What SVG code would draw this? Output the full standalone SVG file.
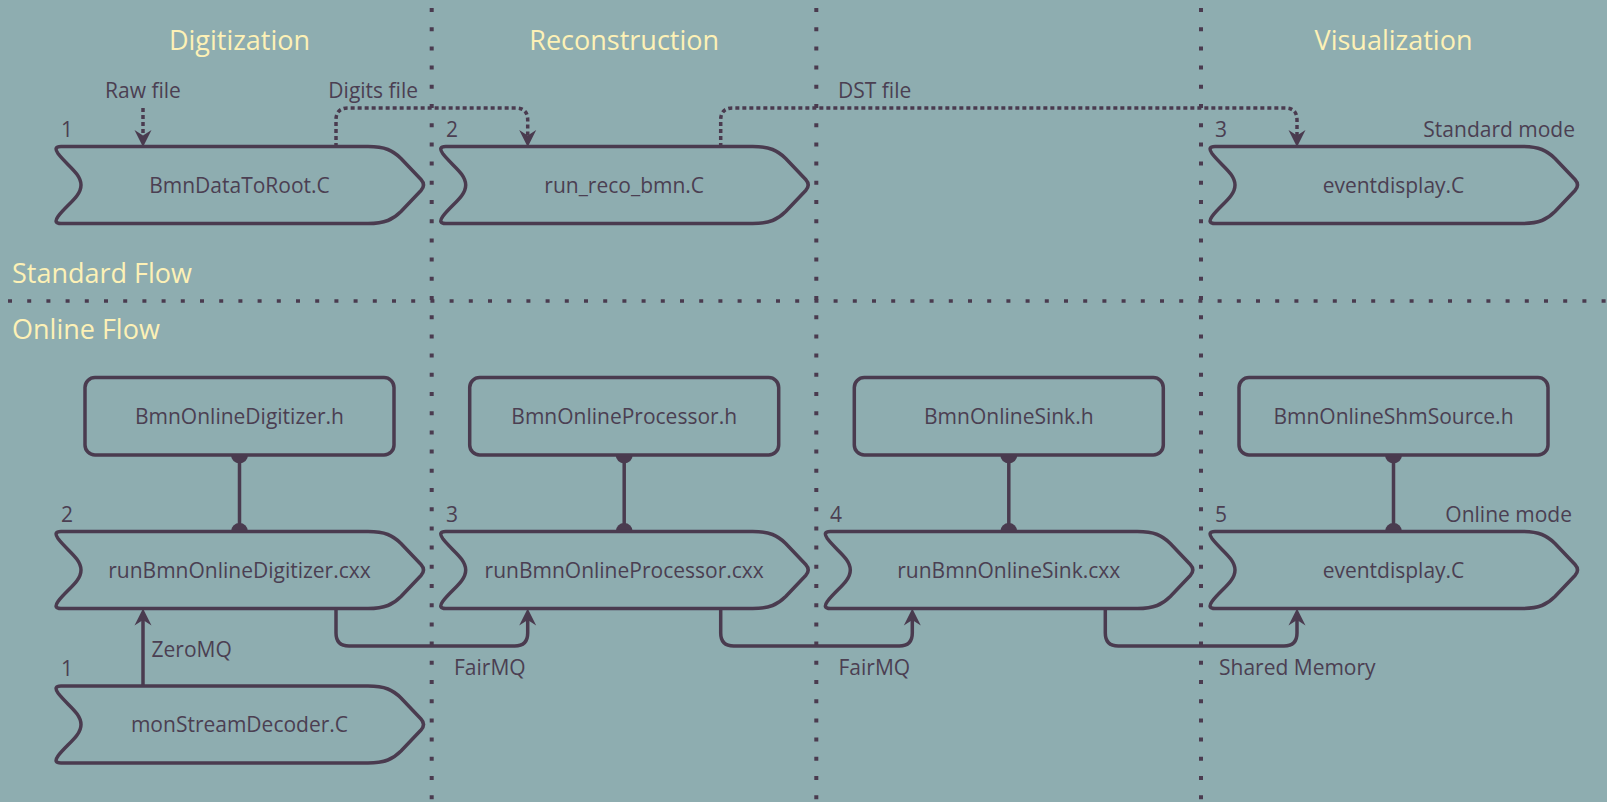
<svg xmlns="http://www.w3.org/2000/svg" xmlns:xlink="http://www.w3.org/1999/xlink" width="1607" height="802" viewBox="0 0 1607 802">
  <style>
    .bg { fill: #8eadb0; }
    .grid { fill: none; stroke: #4a3b4f; stroke-width: 4; stroke-dasharray: 4 15.2; }
    .title { font-family: "Open Sans", "Liberation Sans", sans-serif; font-size: 27px; font-weight: 500; fill: #fdf1b6; }
    .label { font-family: "Open Sans", "Liberation Sans", sans-serif; font-size: 21px; fill: #4b3f52; }
    .mid { text-anchor: middle; }
    .end { text-anchor: end; }
    .shape { fill: #8eadb0; stroke: #4a3b4f; stroke-width: 3.5; stroke-linejoin: round; }
    .flow { fill: none; stroke: #4a3b4f; stroke-width: 3.5; }
    .dotted { stroke-dasharray: 4 3; }
    .dot { fill: #4a3b4f; }
  </style>
  <defs>
    <!-- chevron-style process shape, local origin at top-left -->
    <path id="proc" d="M8,0 H315 C332,0 340,4 348,12 L368,33 Q373,38.5 368,44 L348,65 C340,73 332,77 315,77 H8 Q0,77 5,70 C14,58 28,50 28,38.5 C28,27 14,19 5,7 Q0,0 8,0 Z"/>
    <marker id="arrow" viewBox="-18 -10 19 20" markerWidth="19" markerHeight="20" refX="-8" refY="0" orient="auto" markerUnits="userSpaceOnUse">
      <path d="M0,0 L-17,-8.5 L-11.5,0 L-17,8.5 Z" fill="#4a3b4f"/>
    </marker>
  </defs>

  <rect class="bg" x="0" y="0" width="1607" height="802"/>

  <!-- swimlane separators -->
  <g id="lanes">
    <line class="grid" x1="431.7" y1="8" x2="431.7" y2="802"/>
    <line class="grid" x1="816.3" y1="8" x2="816.3" y2="802"/>
    <line class="grid" x1="1201" y1="8" x2="1201" y2="802"/>
    <line class="grid" x1="8" y1="301" x2="1607" y2="301" style="stroke-width:3.5"/>
  </g>

  <!-- headings -->
  <g id="headings">
    <text class="title mid" x="239.5" y="50">Digitization</text>
    <text class="title mid" x="624.2" y="50">Reconstruction</text>
    <text class="title mid" x="1393.5" y="50">Visualization</text>
    <text class="title" x="12" y="282.5">Standard Flow</text>
    <text class="title" x="12" y="339">Online Flow</text>
  </g>

  <!-- connectors -->
  <g id="connectors">
    <path class="flow dotted" d="M143,108 V139" marker-end="url(#arrow)"/>
    <path class="flow dotted" d="M336,147 V120 Q336,108 348,108 H515.7 Q527.7,108 527.7,120 V139" marker-end="url(#arrow)"/>
    <path class="flow dotted" d="M720.7,147 V120 Q720.7,108 732.7,108 H1285 Q1297,108 1297,120 V139" marker-end="url(#arrow)"/>

    <path class="flow" d="M143,686 V616.5" marker-end="url(#arrow)"/>
    <path class="flow" d="M336,608.5 V633 Q336,646 349,646 H514.7 Q527.7,646 527.7,633 V616.5" marker-end="url(#arrow)"/>
    <path class="flow" d="M720.7,608.5 V633 Q720.7,646 733.7,646 H899.3 Q912.3,646 912.3,633 V616.5" marker-end="url(#arrow)"/>
    <path class="flow" d="M1105.3,608.5 V633 Q1105.3,646 1118.3,646 H1284 Q1297,646 1297,633 V616.5" marker-end="url(#arrow)"/>

    <line class="flow" x1="239.5" y1="455" x2="239.5" y2="531.5"/>
    <circle class="dot" cx="239.5" cy="455" r="8.5"/>
    <circle class="dot" cx="239.5" cy="531.5" r="8.5"/>
    <line class="flow" x1="624.2" y1="455" x2="624.2" y2="531.5"/>
    <circle class="dot" cx="624.2" cy="455" r="8.5"/>
    <circle class="dot" cx="624.2" cy="531.5" r="8.5"/>
    <line class="flow" x1="1008.8" y1="455" x2="1008.8" y2="531.5"/>
    <circle class="dot" cx="1008.8" cy="455" r="8.5"/>
    <circle class="dot" cx="1008.8" cy="531.5" r="8.5"/>
    <line class="flow" x1="1393.5" y1="455" x2="1393.5" y2="531.5"/>
    <circle class="dot" cx="1393.5" cy="455" r="8.5"/>
    <circle class="dot" cx="1393.5" cy="531.5" r="8.5"/>

    <text class="label mid" x="143" y="98">Raw file</text>
    <text class="label end" x="418" y="98">Digits file</text>
    <text class="label" x="838" y="98">DST file</text>
    <text class="label" x="151.5" y="656.5">ZeroMQ</text>
    <text class="label" x="454" y="675">FairMQ</text>
    <text class="label" x="838.5" y="675">FairMQ</text>
    <text class="label" x="1219" y="675">Shared Memory</text>
  </g>

  <!-- standard flow -->
  <g id="std-digitize">
    <use xlink:href="#proc" href="#proc" class="shape" x="53" y="146.5"/>
    <text class="label" x="61" y="137">1</text>
    <text class="label mid" x="239.5" y="192.5">BmnDataToRoot.C</text>
  </g>
  <g id="std-reco">
    <use xlink:href="#proc" href="#proc" class="shape" x="437.7" y="146.5"/>
    <text class="label" x="446" y="137">2</text>
    <text class="label mid" x="624.2" y="192.5">run_reco_bmn.C</text>
  </g>
  <g id="std-display">
    <use xlink:href="#proc" href="#proc" class="shape" x="1207" y="146.5"/>
    <text class="label" x="1215" y="137">3</text>
    <text class="label end" x="1575" y="137">Standard mode</text>
    <text class="label mid" x="1393.5" y="192.5">eventdisplay.C</text>
  </g>

  <!-- online flow: headers -->
  <g id="hdr-digitizer">
    <rect class="shape" x="85" y="377.5" width="309" height="77.5" rx="10"/>
    <text class="label mid" x="239.5" y="424">BmnOnlineDigitizer.h</text>
  </g>
  <g id="hdr-processor">
    <rect class="shape" x="469.7" y="377.5" width="309" height="77.5" rx="10"/>
    <text class="label mid" x="624.2" y="424">BmnOnlineProcessor.h</text>
  </g>
  <g id="hdr-sink">
    <rect class="shape" x="854.3" y="377.5" width="309" height="77.5" rx="10"/>
    <text class="label mid" x="1008.8" y="424">BmnOnlineSink.h</text>
  </g>
  <g id="hdr-shmsource">
    <rect class="shape" x="1239" y="377.5" width="309" height="77.5" rx="10"/>
    <text class="label mid" x="1393.5" y="424">BmnOnlineShmSource.h</text>
  </g>

  <!-- online flow: processes -->
  <g id="onl-digitizer">
    <use xlink:href="#proc" href="#proc" class="shape" x="53" y="531.5"/>
    <text class="label" x="61" y="521.5">2</text>
    <text class="label mid" x="239.5" y="577.5">runBmnOnlineDigitizer.cxx</text>
  </g>
  <g id="onl-processor">
    <use xlink:href="#proc" href="#proc" class="shape" x="437.7" y="531.5"/>
    <text class="label" x="446" y="521.5">3</text>
    <text class="label mid" x="624.2" y="577.5">runBmnOnlineProcessor.cxx</text>
  </g>
  <g id="onl-sink">
    <use xlink:href="#proc" href="#proc" class="shape" x="822.3" y="531.5"/>
    <text class="label" x="830" y="521.5">4</text>
    <text class="label mid" x="1008.8" y="577.5">runBmnOnlineSink.cxx</text>
  </g>
  <g id="onl-display">
    <use xlink:href="#proc" href="#proc" class="shape" x="1207" y="531.5"/>
    <text class="label" x="1215" y="521.5">5</text>
    <text class="label end" x="1572" y="521.5">Online mode</text>
    <text class="label mid" x="1393.5" y="577.5">eventdisplay.C</text>
  </g>
  <g id="onl-decoder">
    <use xlink:href="#proc" href="#proc" class="shape" x="53" y="686"/>
    <text class="label" x="61" y="676">1</text>
    <text class="label mid" x="239.5" y="732">monStreamDecoder.C</text>
  </g>
</svg>
